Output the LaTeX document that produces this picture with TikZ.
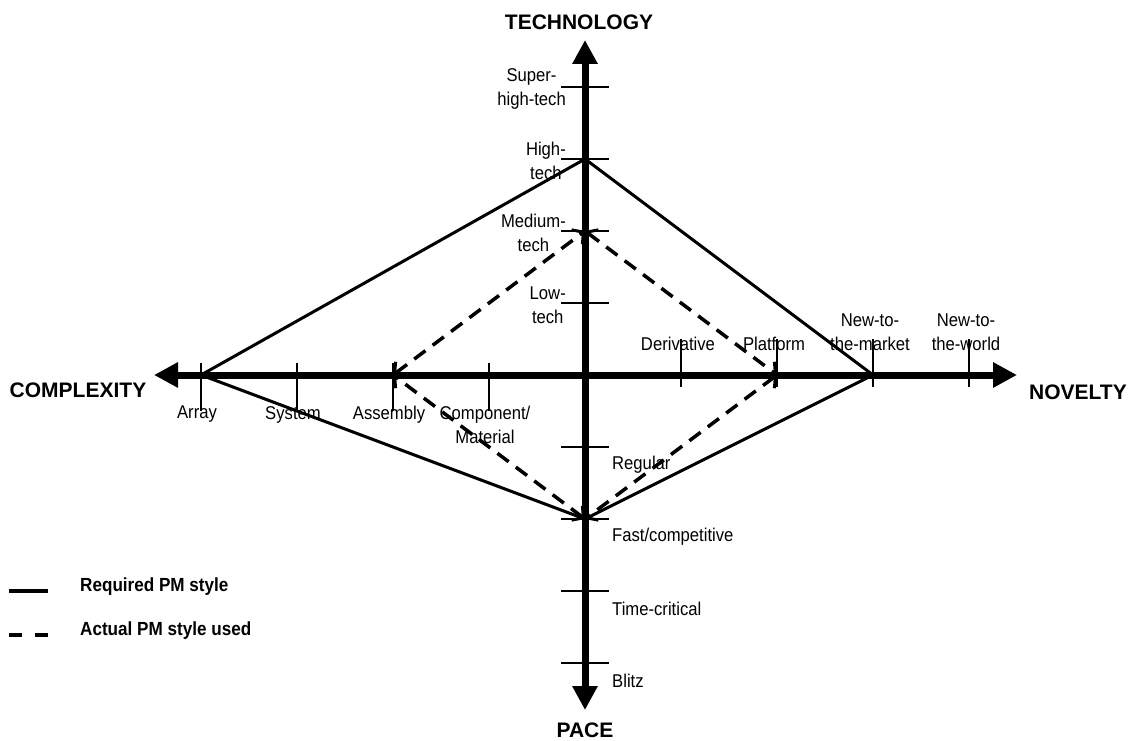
\documentclass[tikz,border=0pt]{standalone}
\usepackage{fontspec}
\setmainfont{Liberation Sans}
\newfontfamily\lblfont[FakeStretch=0.9]{Liberation Sans}
\usetikzlibrary{arrows.meta,positioning}

\tikzset{
  axis/.style={line width=7pt, {Triangle[length=24pt,width=24pt]}-{Triangle[length=24pt,width=24pt]}},
  required/.style={line width=3pt, line join=miter},
  actual/.style={line width=3.5pt, dash pattern=on 14pt off 9pt,
    {Straight Barb[length=8pt,width=18pt,line width=3pt]}-{Straight Barb[length=8pt,width=18pt,line width=3pt]}},
  tick/.style={line width=1.3pt},
  axtitle/.style={font=\fontsize{21}{24}\selectfont\bfseries},
  lbl/.style={font=\lblfont\fontsize{18.5}{24}\selectfont, align=center, inner sep=0pt},
  legtext/.style={font=\lblfont\fontsize{19}{20}\selectfont\bfseries, anchor=west, inner sep=0pt}
}

\begin{document}
\begin{tikzpicture}[x=1pt,y=-1pt]
\useasboundingbox (0,0) rectangle (1132,741);

% axes
\coordinate (ctr) at (585,375);
\coordinate (ax-t) at (585,40);
\coordinate (ax-b) at (585,710);
\coordinate (ax-l) at (154,375);
\coordinate (ax-r) at (1017,375);
\draw[axis] (ax-l) -- (ax-r);
\draw[axis] (ax-b) -- (ax-t);

\node[axtitle] (tech) at (579,22) {TECHNOLOGY};
\node[axtitle] (pace) at (585,730) {PACE};
\node[axtitle] (cplx) at (78,390) {COMPLEXITY};
\node[axtitle] (nov) at (1078,392) {NOVELTY};

% ticks
\foreach \k in {1,...,4} {
  \draw[tick] (585-96*\k,363) -- (585-96*\k,411);
  \draw[tick] (585+96*\k,339) -- (585+96*\k,387);
  \draw[tick] (561,375-72*\k) -- (609,375-72*\k);
  \draw[tick] (561,375+72*\k) -- (609,375+72*\k);
}

% technology labels
\foreach \k/\txt/\nm in {4/{Super-\\high-tech}/shtech, 3/{High-\\tech}/htech, 2/{Medium-\\tech}/mtech, 1/{Low-\\tech}/ltech}
  \node[lbl, anchor=east] (\nm) at (566,377-72*\k) {\txt};

% pace labels
\foreach \k/\txt/\nm in {1/Regular/reg, 2/{Fast/competitive}/fast, 3/Time-critical/tcrit, 4/Blitz/blitz}
  \node[lbl, anchor=west] (\nm) at (612,375+72*\k+18) {\txt};

% complexity labels
\foreach \k/\txt/\nm in {4/Array/arr, 3/System/sys, 2/Assembly/asm, 1/{Component/\\Material}/comp}
  \node[lbl, anchor=north] (\nm) at (585-96*\k-4,406) {\txt};

% novelty labels
\foreach \k/\txt/\nm in {1/Derivative/deriv, 2/Platform/plat, 3/{New-to-\\the-market}/ntm, 4/{New-to-\\the-world}/ntw}
  \node[lbl, anchor=south] (\nm) at (585+96*\k-3,351) {\txt};

% required PM style
\coordinate (req-t) at (585,159);
\coordinate (req-r) at (873,375);
\coordinate (req-b) at (585,519);
\coordinate (req-l) at (201,375);
\draw[required] (req-t) -- (req-r) -- (req-b) -- (req-l) -- cycle;

% actual PM style used
\coordinate (act-t) at (585,231);
\coordinate (act-r) at (777,375);
\coordinate (act-b) at (585,519);
\coordinate (act-l) at (393,375);
\draw[actual] (act-t) -- (act-r);
\draw[actual] (act-r) -- (act-b);
\draw[actual] (act-b) -- (act-l);
\draw[actual] (act-l) -- (act-t);

% legend
\coordinate (leg1a) at (9,591);
\coordinate (leg1b) at (48,591);
\coordinate (leg2a) at (9,635);
\coordinate (leg2b) at (48,635);
\draw[line width=3.5pt] (leg1a) -- (leg1b);
\draw[line width=3.5pt, dash pattern=on 13pt off 13pt] (leg2a) -- (leg2b);
\node[legtext] (legreq) at (80,587) {Required PM style};
\node[legtext] (legact) at (80,631) {Actual PM style used};
\end{tikzpicture}
\end{document}
